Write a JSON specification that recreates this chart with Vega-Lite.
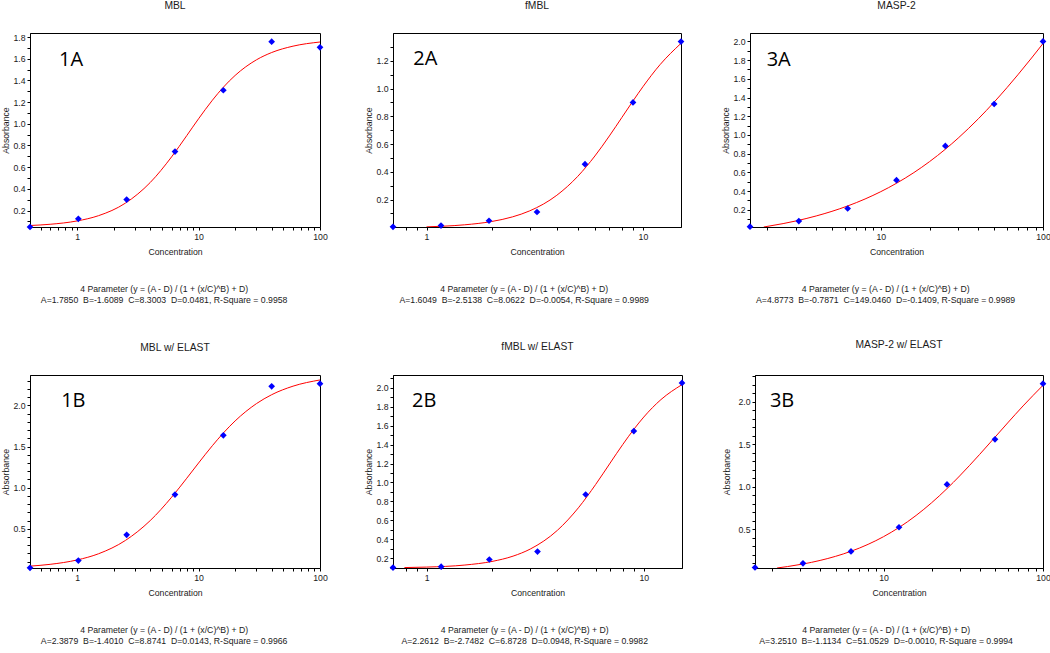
{
  "$schema": "https://vega.github.io/schema/vega-lite/v6.json",
  "padding": 0,
  "background": "#ffffff",
  "datasets": {
    "p1A": [{"c":0.4096,"a":0.048},{"c":1.024,"a":0.123},{"c":2.56,"a":0.301},{"c":6.4,"a":0.744},{"c":16,"a":1.309},{"c":40,"a":1.757},{"c":100,"a":1.705}],
    "c1A": [{"c":0.4096,"a":0.0617},{"c":0.6,"a":0.0731},{"c":1,"a":0.1039},{"c":1.5,"a":0.1522},{"c":2.5,"a":0.2681},{"c":4,"a":0.4581},{"c":6,"a":0.6948},{"c":8,"a":0.8908},{"c":10,"a":1.0457},{"c":13,"a":1.2171},{"c":16,"a":1.3367},{"c":20,"a":1.4455},{"c":30,"a":1.5899},{"c":40,"a":1.6569},{"c":60,"a":1.7158},{"c":100,"a":1.7539}],
    "p1B": [{"c":0.4096,"a":0.025},{"c":1.024,"a":0.113},{"c":2.56,"a":0.427},{"c":6.4,"a":0.916},{"c":16,"a":1.637},{"c":40,"a":2.233},{"c":100,"a":2.265}],
    "c1B": [{"c":0.4096,"a":0.0458},{"c":0.6,"a":0.0676},{"c":1,"a":0.1208},{"c":1.5,"a":0.1959},{"c":2.5,"a":0.3583},{"c":4,"a":0.5998},{"c":6,"a":0.8836},{"c":8,"a":1.1151},{"c":10,"a":1.3002},{"c":13,"a":1.5112},{"c":16,"a":1.6651},{"c":20,"a":1.812},{"c":30,"a":2.0232},{"c":40,"a":2.1312},{"c":60,"a":2.2353},{"c":100,"a":2.3107}],
    "p2A": [{"c":0.69984,"a":0.003},{"c":1.1664,"a":0.012},{"c":1.944,"a":0.047},{"c":3.24,"a":0.11},{"c":5.4,"a":0.455},{"c":9,"a":0.9},{"c":15,"a":1.338}],
    "c2A": [{"c":1,"a":0.003},{"c":1.2,"a":0.0079},{"c":1.5,"a":0.0178},{"c":2,"a":0.0416},{"c":2.5,"a":0.0752},{"c":3,"a":0.1185},{"c":4,"a":0.2306},{"c":5,"a":0.3671},{"c":6,"a":0.5138},{"c":7,"a":0.6583},{"c":8,"a":0.7919},{"c":9,"a":0.9104},{"c":10,"a":1.0125},{"c":12,"a":1.1718},{"c":15,"a":1.3255}],
    "p2B": [{"c":0.69984,"a":0.1},{"c":1.1664,"a":0.11},{"c":1.944,"a":0.186},{"c":3.24,"a":0.27},{"c":5.4,"a":0.873},{"c":9,"a":1.543},{"c":15,"a":2.052}],
    "c2B": [{"c":0.79,"a":0.1005},{"c":1,"a":0.1056},{"c":1.5,"a":0.1273},{"c":2,"a":0.1653},{"c":2.5,"a":0.2214},{"c":3,"a":0.2962},{"c":4,"a":0.494},{"c":5,"a":0.7325},{"c":6,"a":0.9782},{"c":7,"a":1.2053},{"c":8,"a":1.4008},{"c":9,"a":1.5619},{"c":10,"a":1.6915},{"c":12,"a":1.8761},{"c":15,"a":2.0342}],
    "p3A": [{"c":1.5625,"a":0.02},{"c":3.125,"a":0.079},{"c":6.25,"a":0.214},{"c":12.5,"a":0.517},{"c":25,"a":0.883},{"c":50,"a":1.331},{"c":100,"a":2.0}],
    "c3A": [{"c":1.9,"a":0.016},{"c":2.5,"a":0.0523},{"c":3,"a":0.0808},{"c":4,"a":0.1341},{"c":5,"a":0.1835},{"c":6.25,"a":0.241},{"c":8,"a":0.3155},{"c":10,"a":0.3938},{"c":12.5,"a":0.4837},{"c":16,"a":0.5978},{"c":20,"a":0.7155},{"c":25,"a":0.8475},{"c":30,"a":0.9664},{"c":40,"a":1.1741},{"c":50,"a":1.3515},{"c":60,"a":1.5062},{"c":70,"a":1.6432},{"c":85,"a":1.8226},{"c":100,"a":1.9773}],
    "p3B": [{"c":1.5625,"a":0.05},{"c":3.125,"a":0.099},{"c":6.25,"a":0.239},{"c":12.5,"a":0.523},{"c":25,"a":1.026},{"c":50,"a":1.556},{"c":100,"a":2.21}],
    "c3B": [{"c":2.15,"a":0.0443},{"c":2.5,"a":0.061},{"c":3.125,"a":0.0909},{"c":4,"a":0.133},{"c":5,"a":0.181},{"c":6.25,"a":0.2405},{"c":8,"a":0.322},{"c":10,"a":0.4122},{"c":12.5,"a":0.52},{"c":16,"a":0.6615},{"c":20,"a":0.8099},{"c":25,"a":0.977},{"c":30,"a":1.1258},{"c":40,"a":1.3777},{"c":50,"a":1.5814},{"c":60,"a":1.7485},{"c":75,"a":1.9486},{"c":100,"a":2.1909}]
  },
  "config": {
    "font": "Liberation Sans",
    "view": {"stroke": "#000000", "strokeWidth": 1},
    "axis": {"labelFont": "Liberation Sans", "labelFontSize": 8.7, "labelColor": "#1a1a1a", "titleFont": "Liberation Sans", "titleFontSize": 8.7, "titleFontWeight": "normal", "titleColor": "#1a1a1a", "domainColor": "#000000", "tickColor": "#000000", "tickSize": 3, "grid": false, "labelPadding": 2},
    "axisY": {"minExtent": 18, "maxExtent": 18, "titlePadding": 2, "tickCount": 100, "labelOverlap": false},
    "axisX": {"titlePadding": 7, "labelFlush": false, "labelOverlap": false},
    "title": {"font": "Liberation Sans", "fontSize": 10.3, "fontWeight": "normal", "color": "#1a1a1a"}
  },
  "spacing": 34,
  "vconcat": [
    {
      "spacing": 35,
      "hconcat": [
        {
          "title": {"text": ["4 Parameter (y = (A - D) / (1 + (x/C)^B) + D)", "A=1.7850 \u00a0B=-1.6089 \u00a0C=8.3003 \u00a0D=0.0481, R-Square = 0.9958"], "orient": "bottom", "anchor": "middle", "frame": "bounds", "fontSize": 8.7, "lineHeight": 11, "offset": 28},
          "vconcat": [{
            "title": {"text": "MBL", "offset": 22},
            "width": 290, "height": 194,
            "layer": [
              {"data": {"name": "c1A"}, "mark": {"type": "line", "color": "#ff0000", "strokeWidth": 1, "interpolate": "monotone", "clip": true},
               "encoding": {
                 "x": {"field": "c", "type": "quantitative", "scale": {"type": "log", "domain": [0.4096, 100], "nice": false},
                   "axis": {"title": "Concentration", "values": [0.5,0.6,0.7,0.8,0.9,1,2,3,4,5,6,7,8,9,10,20,30,40,50,60,70,80,90,100],
                     "labelExpr": "abs(log(datum.value)/LN10 - round(log(datum.value)/LN10)) < 0.001 ? format(datum.value, '~g') : ''"}},
                 "y": {"field": "a", "type": "quantitative", "scale": {"domain": [0.048, 1.837], "nice": false, "zero": false},
                   "axis": {"title": "Absorbance", "tickCount": 100, "values": [0.1,0.2,0.3,0.4,0.5,0.6,0.7,0.8,0.9,1.0,1.1,1.2,1.3,1.4,1.5,1.6,1.7,1.8],
                     "labelExpr": "abs(datum.value*5 - round(datum.value*5)) < 0.01 ? format(datum.value, '.1f') : ''"}}
               }},
              {"data": {"name": "p1A"}, "mark": {"type": "point", "shape": "diamond", "filled": true, "color": "#0000ff", "opacity": 1, "size": 45},
               "encoding": {"x": {"field": "c", "type": "quantitative"}, "y": {"field": "a", "type": "quantitative"}}},
              {"data": {"values": [{"label": "1A"}]}, "mark": {"type": "text", "font": "Open Sans", "fontSize": 20, "align": "left", "baseline": "middle", "color": "#000000"},
               "encoding": {"x": {"datum": 0.711, "type": "quantitative"}, "y": {"datum": 1.591, "type": "quantitative"}, "text": {"field": "label"}}}
            ]
          }]
        },
        {
          "title": {"text": ["4 Parameter (y = (A - D) / (1 + (x/C)^B) + D)", "A=1.6049 \u00a0B=-2.5138 \u00a0C=8.0622 \u00a0D=-0.0054, R-Square = 0.9989"], "orient": "bottom", "anchor": "middle", "frame": "bounds", "fontSize": 8.7, "lineHeight": 11, "offset": 28},
          "vconcat": [{
            "title": {"text": "fMBL", "offset": 22},
            "width": 288, "height": 194,
            "layer": [
              {"data": {"name": "c2A"}, "mark": {"type": "line", "color": "#ff0000", "strokeWidth": 1, "interpolate": "monotone", "clip": true},
               "encoding": {
                 "x": {"field": "c", "type": "quantitative", "scale": {"type": "log", "domain": [0.69984, 15], "nice": false},
                   "axis": {"title": "Concentration", "values": [0.8,0.9,1,2,3,4,5,6,7,8,9,10],
                     "labelExpr": "abs(log(datum.value)/LN10 - round(log(datum.value)/LN10)) < 0.001 ? format(datum.value, '~g') : ''"}},
                 "y": {"field": "a", "type": "quantitative", "scale": {"domain": [0.002, 1.4], "nice": false, "zero": false},
                   "axis": {"title": "Absorbance", "tickCount": 100, "values": [0.1,0.2,0.3,0.4,0.5,0.6,0.7,0.8,0.9,1.0,1.1,1.2,1.3],
                     "labelExpr": "abs(datum.value*5 - round(datum.value*5)) < 0.01 ? format(datum.value, '.1f') : ''"}}
               }},
              {"data": {"name": "p2A"}, "mark": {"type": "point", "shape": "diamond", "filled": true, "color": "#0000ff", "opacity": 1, "size": 45},
               "encoding": {"x": {"field": "c", "type": "quantitative"}, "y": {"field": "a", "type": "quantitative"}}},
              {"data": {"values": [{"label": "2A"}]}, "mark": {"type": "text", "font": "Open Sans", "fontSize": 20, "align": "left", "baseline": "middle", "color": "#000000"},
               "encoding": {"x": {"datum": 0.868, "type": "quantitative"}, "y": {"datum": 1.212, "type": "quantitative"}, "text": {"field": "label"}}}
            ]
          }]
        },
        {
          "title": {"text": ["4 Parameter (y = (A - D) / (1 + (x/C)^B) + D)", "A=4.8773 \u00a0B=-0.7871 \u00a0C=149.0460 \u00a0D=-0.1409, R-Square = 0.9989"], "orient": "bottom", "anchor": "middle", "frame": "bounds", "fontSize": 8.7, "lineHeight": 11, "offset": 28},
          "vconcat": [{
            "title": {"text": "MASP-2", "offset": 22},
            "width": 293, "height": 194,
            "layer": [
              {"data": {"name": "c3A"}, "mark": {"type": "line", "color": "#ff0000", "strokeWidth": 1, "interpolate": "monotone", "clip": true},
               "encoding": {
                 "x": {"field": "c", "type": "quantitative", "scale": {"type": "log", "domain": [1.5625, 100], "nice": false},
                   "axis": {"title": "Concentration", "values": [2,3,4,5,6,7,8,9,10,20,30,40,50,60,70,80,90,100],
                     "labelExpr": "abs(log(datum.value)/LN10 - round(log(datum.value)/LN10)) < 0.001 ? format(datum.value, '~g') : ''"}},
                 "y": {"field": "a", "type": "quantitative", "scale": {"domain": [0.016, 2.09], "nice": false, "zero": false},
                   "axis": {"title": "Absorbance", "tickCount": 100, "values": [0.1,0.2,0.3,0.4,0.5,0.6,0.7,0.8,0.9,1.0,1.1,1.2,1.3,1.4,1.5,1.6,1.7,1.8,1.9,2.0],
                     "labelExpr": "abs(datum.value*5 - round(datum.value*5)) < 0.01 ? format(datum.value, '.1f') : ''"}}
               }},
              {"data": {"name": "p3A"}, "mark": {"type": "point", "shape": "diamond", "filled": true, "color": "#0000ff", "opacity": 1, "size": 45},
               "encoding": {"x": {"field": "c", "type": "quantitative"}, "y": {"field": "a", "type": "quantitative"}}},
              {"data": {"values": [{"label": "3A"}]}, "mark": {"type": "text", "font": "Open Sans", "fontSize": 20, "align": "left", "baseline": "middle", "color": "#000000"},
               "encoding": {"x": {"datum": 1.98, "type": "quantitative"}, "y": {"datum": 1.805, "type": "quantitative"}, "text": {"field": "label"}}}
            ]
          }]
        }
      ]
    },
    {
      "spacing": 35,
      "hconcat": [
        {
          "title": {"text": ["4 Parameter (y = (A - D) / (1 + (x/C)^B) + D)", "A=2.3879 \u00a0B=-1.4010 \u00a0C=8.8741 \u00a0D=0.0143, R-Square = 0.9966"], "orient": "bottom", "anchor": "middle", "frame": "bounds", "fontSize": 8.7, "lineHeight": 11, "offset": 28},
          "vconcat": [{
            "title": {"text": "MBL w/ ELAST", "offset": 22},
            "width": 290, "height": 193,
            "layer": [
              {"data": {"name": "c1B"}, "mark": {"type": "line", "color": "#ff0000", "strokeWidth": 1, "interpolate": "monotone", "clip": true},
               "encoding": {
                 "x": {"field": "c", "type": "quantitative", "scale": {"type": "log", "domain": [0.4096, 100], "nice": false},
                   "axis": {"title": "Concentration", "values": [0.5,0.6,0.7,0.8,0.9,1,2,3,4,5,6,7,8,9,10,20,30,40,50,60,70,80,90,100],
                     "labelExpr": "abs(log(datum.value)/LN10 - round(log(datum.value)/LN10)) < 0.001 ? format(datum.value, '~g') : ''"}},
                 "y": {"field": "a", "type": "quantitative", "scale": {"domain": [0.023, 2.371], "nice": false, "zero": false},
                   "axis": {"title": "Absorbance", "tickCount": 100, "values": [0.1,0.2,0.3,0.4,0.5,0.6,0.7,0.8,0.9,1.0,1.1,1.2,1.3,1.4,1.5,1.6,1.7,1.8,1.9,2.0,2.1,2.2,2.3],
                     "labelExpr": "abs(datum.value*2 - round(datum.value*2)) < 0.01 ? format(datum.value, '.1f') : ''"}}
               }},
              {"data": {"name": "p1B"}, "mark": {"type": "point", "shape": "diamond", "filled": true, "color": "#0000ff", "opacity": 1, "size": 45},
               "encoding": {"x": {"field": "c", "type": "quantitative"}, "y": {"field": "a", "type": "quantitative"}}},
              {"data": {"values": [{"label": "1B"}]}, "mark": {"type": "text", "font": "Open Sans", "fontSize": 20, "align": "left", "baseline": "middle", "color": "#000000"},
               "encoding": {"x": {"datum": 0.739, "type": "quantitative"}, "y": {"datum": 2.051, "type": "quantitative"}, "text": {"field": "label"}}}
            ]
          }]
        },
        {
          "title": {"text": ["4 Parameter (y = (A - D) / (1 + (x/C)^B) + D)", "A=2.2612 \u00a0B=-2.7482 \u00a0C=6.8728 \u00a0D=0.0948, R-Square = 0.9982"], "orient": "bottom", "anchor": "middle", "frame": "bounds", "fontSize": 8.7, "lineHeight": 11, "offset": 28},
          "vconcat": [{
            "title": {"text": "fMBL w/ ELAST", "offset": 22},
            "width": 289, "height": 193,
            "layer": [
              {"data": {"name": "c2B"}, "mark": {"type": "line", "color": "#ff0000", "strokeWidth": 1, "interpolate": "monotone", "clip": true},
               "encoding": {
                 "x": {"field": "c", "type": "quantitative", "scale": {"type": "log", "domain": [0.69984, 15], "nice": false},
                   "axis": {"title": "Concentration", "values": [0.8,0.9,1,2,3,4,5,6,7,8,9,10],
                     "labelExpr": "abs(log(datum.value)/LN10 - round(log(datum.value)/LN10)) < 0.001 ? format(datum.value, '~g') : ''"}},
                 "y": {"field": "a", "type": "quantitative", "scale": {"domain": [0.096, 2.136], "nice": false, "zero": false},
                   "axis": {"title": "Absorbance", "tickCount": 100, "values": [0.1,0.2,0.3,0.4,0.5,0.6,0.7,0.8,0.9,1.0,1.1,1.2,1.3,1.4,1.5,1.6,1.7,1.8,1.9,2.0,2.1],
                     "labelExpr": "abs(datum.value*5 - round(datum.value*5)) < 0.01 ? format(datum.value, '.1f') : ''"}}
               }},
              {"data": {"name": "p2B"}, "mark": {"type": "point", "shape": "diamond", "filled": true, "color": "#0000ff", "opacity": 1, "size": 45},
               "encoding": {"x": {"field": "c", "type": "quantitative"}, "y": {"field": "a", "type": "quantitative"}}},
              {"data": {"values": [{"label": "2B"}]}, "mark": {"type": "text", "font": "Open Sans", "fontSize": 20, "align": "left", "baseline": "middle", "color": "#000000"},
               "encoding": {"x": {"datum": 0.857, "type": "quantitative"}, "y": {"datum": 1.861, "type": "quantitative"}, "text": {"field": "label"}}}
            ]
          }]
        },
        {
          "title": {"text": ["4 Parameter (y = (A - D) / (1 + (x/C)^B) + D)", "A=3.2510 \u00a0B=-1.1134 \u00a0C=51.0529 \u00a0D=-0.0010, R-Square = 0.9994"], "orient": "bottom", "anchor": "middle", "frame": "bounds", "fontSize": 8.7, "lineHeight": 11, "offset": 28},
          "vconcat": [{
            "title": {"text": "MASP-2 w/ ELAST", "offset": 22},
            "width": 288, "height": 193,
            "layer": [
              {"data": {"name": "c3B"}, "mark": {"type": "line", "color": "#ff0000", "strokeWidth": 1, "interpolate": "monotone", "clip": true},
               "encoding": {
                 "x": {"field": "c", "type": "quantitative", "scale": {"type": "log", "domain": [1.5625, 100], "nice": false},
                   "axis": {"title": "Concentration", "values": [2,3,4,5,6,7,8,9,10,20,30,40,50,60,70,80,90,100],
                     "labelExpr": "abs(log(datum.value)/LN10 - round(log(datum.value)/LN10)) < 0.001 ? format(datum.value, '~g') : ''"}},
                 "y": {"field": "a", "type": "quantitative", "scale": {"domain": [0.044, 2.312], "nice": false, "zero": false},
                   "axis": {"title": "Absorbance", "titlePadding": 6, "tickCount": 100, "values": [0.1,0.2,0.3,0.4,0.5,0.6,0.7,0.8,0.9,1.0,1.1,1.2,1.3,1.4,1.5,1.6,1.7,1.8,1.9,2.0,2.1,2.2,2.3],
                     "labelExpr": "abs(datum.value*2 - round(datum.value*2)) < 0.01 ? format(datum.value, '.1f') : ''"}}
               }},
              {"data": {"name": "p3B"}, "mark": {"type": "point", "shape": "diamond", "filled": true, "color": "#0000ff", "opacity": 1, "size": 45},
               "encoding": {"x": {"field": "c", "type": "quantitative"}, "y": {"field": "a", "type": "quantitative"}}},
              {"data": {"values": [{"label": "3B"}]}, "mark": {"type": "text", "font": "Open Sans", "fontSize": 20, "align": "left", "baseline": "middle", "color": "#000000"},
               "encoding": {"x": {"datum": 1.937, "type": "quantitative"}, "y": {"datum": 2.006, "type": "quantitative"}, "text": {"field": "label"}}}
            ]
          }]
        }
      ]
    }
  ]
}
